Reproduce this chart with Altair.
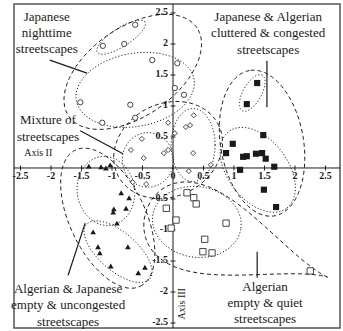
import numpy as np
import pandas as pd
import altair as alt

# ---- object scores on Axis II (horizontal) and Axis III (vertical) ----
night_x = [-0.62, -1.15, -0.80, -0.34, 0.07, 0.03, 0.18, -1.52, -0.70, -0.62, -1.16]
night_y = [2.31, 1.97, 2.00, 1.74, 1.69, 1.29, 1.18, 1.06, 1.02, 0.81, 0.73]

mix_x = [-0.08, 0.03, 0.21, 0.28, 0.34, -0.51, -0.69, -0.08, -0.15, -0.48, 0.33, 0.62, 0.26, -0.66, -0.44]
mix_y = [0.73, 0.56, 0.66, 0.69, 0.85, 0.47, 0.29, 0.29, 0.24, 0.16, 0.24, 0.05, -0.05, -0.23, -0.26]

clutter_x = [1.38, 1.21, 1.48, 0.98, 0.87, 1.15, 1.21, 1.36, 1.46, 1.52, 1.66, 1.10, 1.49, 1.69]
clutter_y = [1.37, 1.03, 0.53, 0.39, 0.24, 0.18, 0.19, 0.23, 0.24, 0.15, 0.02, -0.03, -0.35, -0.63]

empty_x = [-1.38, -1.18, -1.10, -1.03, -0.85, -0.72, -0.97, -0.98, -0.77, -0.92,
           -1.31, -1.23, -1.20, -0.74, -1.02, -0.57, -0.46]
empty_y = [0.03, 0.02, 0.00, 0.05, -0.40, -0.48, -0.66, -0.71, -0.65, -0.89,
           -1.03, -1.27, -1.37, -1.27, -1.58, -1.69, -1.60]

quiet_x = [0.23, 0.34, 0.38, -0.11, 0.05, -0.03, 0.87, 0.52, 0.49, 0.64, 2.25]
quiet_y = [-0.40, -0.48, -0.58, -0.65, -0.84, -0.97, -0.89, -1.15, -1.35, -1.37, -1.66]

# ---- group outlines: centre x, centre y, semi-axis a, semi-axis b, rotation (deg) ----
dashed_ellipses = [
    (-0.66, 1.55, 1.27, 0.72, 34),    # Japanese nighttime
    (-0.08, 0.29, 0.92, 0.75, 25),    # mixture
    (1.46, 0.40, 1.19, 0.68, 100),    # cluttered & congested
    (-1.07, -0.81, 1.22, 0.62, -64),  # empty & uncongested
]
dotted_ellipses = [
    (-0.85, 2.11, 0.46, 0.15, 32),
    (-0.62, 1.26, 0.98, 0.59, 10),
    (-0.41, 0.13, 0.42, 0.44, 0),
    (0.33, 0.37, 0.36, 0.59, 0),
    (1.30, 1.21, 0.33, 0.15, 60),
    (1.39, -0.03, 0.78, 0.49, -52),
    (-1.10, -0.37, 0.47, 0.56, 10),
    (-0.90, -1.35, 0.68, 0.31, -40),
    (0.39, -0.87, 0.73, 0.57, -8),
]
# teardrop outline round the empty & quiet group (round end left, tip right)
drop = (1.05, -1.22, 1.58, 1.08, -20)

# ---- axes ----
x_ticks = [-2.5, -2, -1.5, -1, -0.5, 0, 0.5, 1, 1.5, 2, 2.5]
y_ticks = [2.5, 2, 1.5, 1, 0.5, -0.5, -1, -1.5, -2, -2.5]
tick_text = {-2.5: "-2.5", -2: "-2", -1.5: "-1.5", -1: "-1", -0.5: "-0.5", 0: "0",
             0.5: "0.5", 1: "1", 1.5: "1.5", 2: "2", 2.5: "2.5"}

# ---- group labels (one row per line) ----
label_lines = ["Japanese", "nighttime", "streetscapes",
               "Mixture of", "streetscapes",
               "Japanese & Algerian", "cluttered & congested", "streetscapes",
               "Algerian & Japanese", "empty & uncongested", "streetscapes",
               "Algerian", "empty & quiet", "streetscapes"]
label_x = [-2.07, -2.07, -2.07, -2.05, -2.05, 1.56, 1.56, 1.56,
           -1.72, -1.72, -1.72, 1.51, 1.51, 1.51]
label_y = [2.44, 2.18, 1.92, 0.77, 0.50, 2.44, 2.18, 1.90,
           -1.95, -2.21, -2.48, -1.92, -2.18, -2.44]

leader_x1 = [-2.02, -1.52, 1.54, -1.72, 1.38]
leader_y1 = [1.74, 0.60, 1.73, -1.73, -1.35]
leader_x2 = [-1.41, -0.82, 1.54, -1.44, 1.38]
leader_y2 = [1.53, 0.23, 0.98, -0.89, -1.77]

X_DOMAIN = [-2.607, 2.738]
Y_DOMAIN = [-2.581, 2.645]
FONT = "Times New Roman, Liberation Serif, serif"
INK = "#1a1a1a"

xs = alt.Scale(domain=X_DOMAIN, nice=False, zero=False)
ys = alt.Scale(domain=Y_DOMAIN, nice=False, zero=False)
X = alt.X("x:Q", scale=xs, axis=None)
Y = alt.Y("y:Q", scale=ys, axis=None)


def outline(params, kind="ellipse", n=160):
    rows = []
    for i, (cx, cy, a, b, ang) in enumerate(params):
        t = np.linspace(0, 2 * np.pi, n)
        u = a * np.cos(t)
        if kind == "ellipse":
            v = b * np.sin(t)
        else:
            v = b * np.sin(t) * np.sin(t / 2) ** 2
        r = np.deg2rad(ang)
        px = cx + u * np.cos(r) - v * np.sin(r)
        py = cy + u * np.sin(r) + v * np.cos(r)
        for k in range(n):
            rows.append({"id": i, "k": k, "x": px[k], "y": py[k]})
    return pd.DataFrame(rows)


def curve_layer(df, dash):
    return alt.Chart(df).mark_line(
        color=INK, strokeWidth=1, strokeDash=dash
    ).encode(x=X, y=Y, detail="id:N", order="k:Q")


dash_df = outline(dashed_ellipses)
drop_df = outline([drop], kind="drop")
drop_df["id"] = 100
dash_layer = curve_layer(pd.concat([dash_df, drop_df]), [4, 3])
dot_layer = curve_layer(outline(dotted_ellipses), [1.2, 2])

# axis lines through the origin
zero = pd.DataFrame({"x": [0.0], "y": [0.0]})
vline = alt.Chart(zero).mark_rule(color=INK, strokeWidth=1).encode(x=X)
hline = alt.Chart(zero).mark_rule(color=INK, strokeWidth=1).encode(y=Y)

xt = pd.DataFrame({"x": x_ticks, "y": [0.0] * len(x_ticks),
                   "lo": [-0.04] * len(x_ticks), "hi": [0.04] * len(x_ticks),
                   "t": [tick_text[v] for v in x_ticks]})
yt = pd.DataFrame({"y": y_ticks, "x": [0.0] * len(y_ticks),
                   "lo": [-0.04] * len(y_ticks), "hi": [0.04] * len(y_ticks),
                   "t": [tick_text[v] for v in y_ticks]})
xtick_marks = alt.Chart(xt).mark_rule(color=INK).encode(x=X, y=alt.Y("lo:Q", scale=ys, axis=None), y2="hi:Q")
ytick_marks = alt.Chart(yt).mark_rule(color=INK).encode(y=Y, x=alt.X("lo:Q", scale=xs, axis=None), x2="hi:Q")
xtick_text = alt.Chart(xt).mark_text(
    font=FONT, fontSize=10, fontWeight="bold", color=INK, dy=8, baseline="middle", align="center"
).encode(x=X, y=Y, text="t:N")
ytick_text = alt.Chart(yt).mark_text(
    font=FONT, fontSize=10, fontWeight="bold", color=INK, dx=-5, dy=-1, baseline="middle", align="right"
).encode(x=X, y=Y, text="t:N")


def points(px, py, shape, filled, size, sw=0.8):
    df = pd.DataFrame({"x": px, "y": py})
    return alt.Chart(df).mark_point(
        shape=shape, filled=filled, size=size, color=INK, strokeWidth=sw, opacity=1,
        fill=INK if filled else "white",
    ).encode(x=X, y=Y)


pts = [
    points(night_x, night_y, "circle", False, 28),
    points(mix_x, mix_y, "diamond", False, 26),
    points(clutter_x, clutter_y, "square", True, 38),
    points(empty_x, empty_y, "triangle-up", True, 32),
    points(quiet_x, quiet_y, "square", False, 40),
]

labels = alt.Chart(pd.DataFrame({"x": label_x, "y": label_y, "t": label_lines})).mark_text(
    font=FONT, fontSize=13, color=INK, align="center", baseline="middle"
).encode(x=X, y=Y, text="t:N")

leaders = alt.Chart(pd.DataFrame({"x": leader_x1, "y": leader_y1,
                                  "x2": leader_x2, "y2": leader_y2})).mark_rule(
    color=INK, strokeWidth=1.2
).encode(x=X, y=Y, x2="x2:Q", y2="y2:Q")

axis2 = alt.Chart(pd.DataFrame({"x": [-2.21], "y": [0.24], "t": ["Axis II"]})).mark_text(
    font=FONT, fontSize=10, color=INK, align="center", baseline="middle"
).encode(x=X, y=Y, text="t:N")
axis3 = alt.Chart(pd.DataFrame({"x": [0.15], "y": [-2.19], "t": ["Axis III"]})).mark_text(
    font=FONT, fontSize=10, color=INK, align="center", baseline="middle", angle=270
).encode(x=X, y=Y, text="t:N")

chart = alt.layer(
    dash_layer, dot_layer, vline, hline, xtick_marks, ytick_marks,
    *pts, xtick_text, ytick_text, leaders, labels, axis2, axis3
).properties(
    width=326, height=324,
    padding={"left": 14, "top": 4, "right": 3, "bottom": 3},
    autosize="none",
    background="white",
).configure_view(stroke="#555555", strokeWidth=1.5)

chart.save("out.html", embed_options={"renderer": "svg", "actions": False})
